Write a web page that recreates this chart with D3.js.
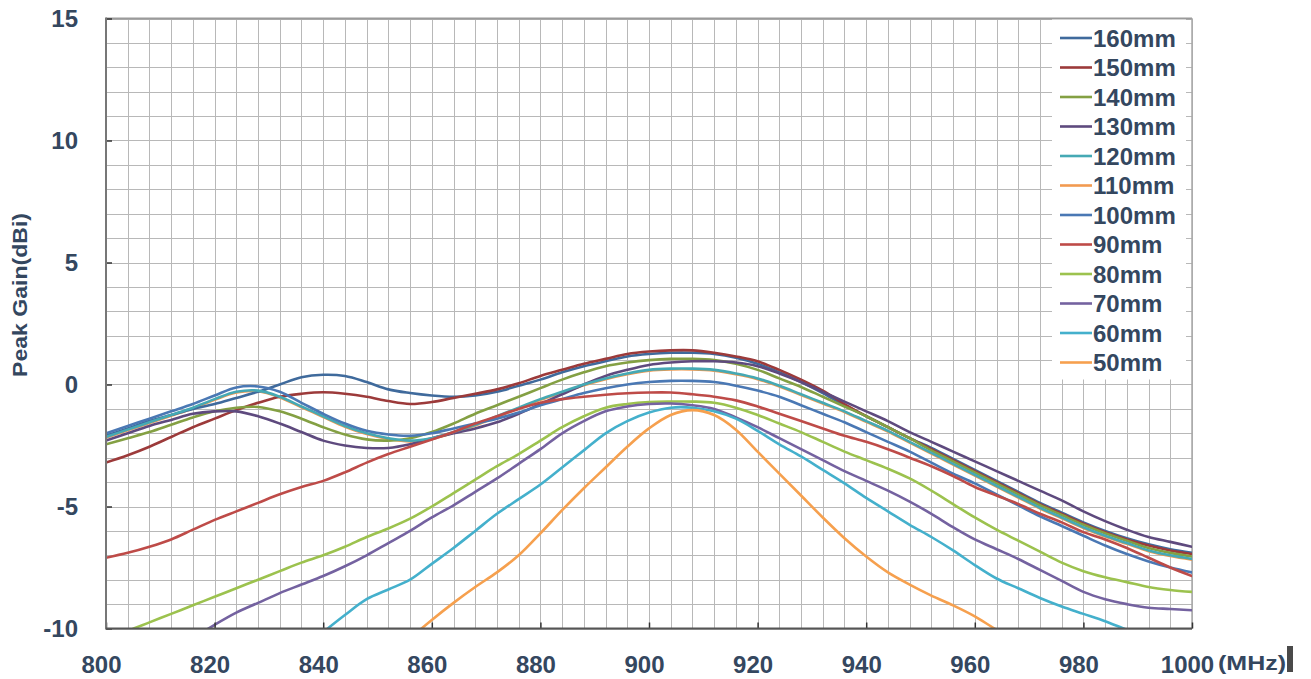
<!DOCTYPE html>
<html>
<head>
<meta charset="utf-8">
<script src="https://cdn.jsdelivr.net/npm/d3@7"></script>
<style>
  html, body { margin: 0; background: #ffffff; }
  svg { display: block; }
</style>
</head>
<body>
<svg id="chart" width="1311" height="679"></svg>
<script>
// Frequency sweep (MHz), one sample every 4 MHz
const freqs = d3.range(800, 1001, 4);

// Peak gain (dBi) for each reflector length; null = below the plotted range
const g160 = [-2.1,-1.8,-1.5,-1.25,-1.0,-0.8,-0.55,-0.3,0.0,0.3,0.4,0.35,0.1,-0.2,-0.35,-0.45,-0.5,-0.45,-0.3,-0.05,0.2,0.5,0.75,0.95,1.15,1.25,1.3,1.3,1.25,1.1,0.85,0.5,0.1,-0.35,-0.85,-1.3,-1.75,-2.2,-2.6,-3.05,-3.5,-3.95,-4.4,-4.85,-5.25,-5.65,-6.0,-6.3,-6.55,-6.75,-6.9];
const g150 = [-3.2,-2.9,-2.55,-2.15,-1.75,-1.4,-1.05,-0.75,-0.5,-0.38,-0.32,-0.38,-0.5,-0.68,-0.8,-0.72,-0.55,-0.38,-0.2,0.05,0.35,0.6,0.85,1.05,1.25,1.35,1.4,1.4,1.3,1.15,0.95,0.6,0.2,-0.25,-0.8,-1.3,-1.75,-2.2,-2.65,-3.1,-3.55,-4.0,-4.45,-4.9,-5.3,-5.7,-6.05,-6.35,-6.6,-6.8,-6.95];
const g140 = [-2.45,-2.2,-1.95,-1.65,-1.35,-1.1,-0.95,-0.92,-1.1,-1.4,-1.75,-2.05,-2.25,-2.3,-2.2,-1.95,-1.6,-1.2,-0.85,-0.5,-0.15,0.2,0.5,0.75,0.9,1.0,1.05,1.05,1.0,0.85,0.6,0.25,-0.1,-0.5,-0.9,-1.3,-1.75,-2.2,-2.7,-3.15,-3.6,-4.05,-4.5,-4.95,-5.35,-5.75,-6.1,-6.4,-6.7,-6.9,-7.05];
const g130 = [-2.3,-2.0,-1.7,-1.45,-1.2,-1.1,-1.1,-1.3,-1.6,-1.95,-2.3,-2.5,-2.6,-2.6,-2.45,-2.2,-2.0,-1.8,-1.55,-1.2,-0.8,-0.4,0.0,0.35,0.6,0.8,0.9,0.95,0.95,0.9,0.75,0.45,0.1,-0.3,-0.7,-1.1,-1.5,-1.95,-2.35,-2.75,-3.15,-3.55,-3.95,-4.35,-4.75,-5.2,-5.6,-5.95,-6.25,-6.45,-6.65];
const g120 = [-2.15,-1.85,-1.55,-1.25,-0.95,-0.6,-0.3,-0.25,-0.5,-0.9,-1.3,-1.7,-2.0,-2.2,-2.3,-2.2,-1.95,-1.65,-1.3,-0.95,-0.6,-0.3,0.0,0.25,0.45,0.6,0.65,0.65,0.6,0.45,0.25,-0.05,-0.4,-0.75,-1.1,-1.5,-1.9,-2.35,-2.8,-3.25,-3.7,-4.15,-4.6,-5.05,-5.45,-5.85,-6.2,-6.5,-6.8,-7.0,-7.15];
const g110 = [-2.18,-1.88,-1.58,-1.28,-0.98,-0.63,-0.33,-0.28,-0.53,-0.93,-1.33,-1.73,-2.03,-2.23,-2.33,-2.23,-1.98,-1.68,-1.33,-0.98,-0.63,-0.33,-0.03,0.22,0.42,0.57,0.62,0.62,0.57,0.42,0.22,-0.08,-0.43,-0.78,-1.13,-1.53,-1.93,-2.38,-2.83,-3.28,-3.73,-4.18,-4.63,-5.08,-5.48,-5.88,-6.23,-6.53,-6.83,-7.03,-7.18];
const g100 = [-2.0,-1.7,-1.4,-1.1,-0.8,-0.45,-0.12,-0.08,-0.3,-0.75,-1.2,-1.6,-1.9,-2.05,-2.1,-2.0,-1.8,-1.6,-1.4,-1.15,-0.85,-0.6,-0.35,-0.15,0.0,0.1,0.15,0.15,0.1,-0.05,-0.25,-0.5,-0.85,-1.2,-1.55,-1.95,-2.35,-2.75,-3.2,-3.65,-4.05,-4.5,-4.95,-5.4,-5.8,-6.2,-6.6,-6.95,-7.25,-7.5,-7.7];
const g90 = [-7.1,-6.9,-6.65,-6.35,-5.95,-5.55,-5.2,-4.85,-4.5,-4.2,-3.95,-3.6,-3.2,-2.85,-2.55,-2.25,-1.95,-1.6,-1.3,-1.0,-0.75,-0.6,-0.5,-0.42,-0.36,-0.33,-0.33,-0.4,-0.5,-0.65,-0.9,-1.2,-1.5,-1.8,-2.1,-2.35,-2.65,-3.0,-3.35,-3.75,-4.2,-4.55,-4.9,-5.3,-5.65,-6.05,-6.35,-6.7,-7.1,-7.5,-7.85];
const g80 = [-10.5,-10.1,-9.75,-9.4,-9.05,-8.7,-8.35,-8.0,-7.65,-7.3,-7.0,-6.65,-6.25,-5.9,-5.5,-5.0,-4.45,-3.9,-3.35,-2.85,-2.3,-1.75,-1.3,-0.95,-0.8,-0.72,-0.7,-0.7,-0.75,-0.95,-1.25,-1.6,-1.95,-2.35,-2.75,-3.1,-3.45,-3.85,-4.35,-4.9,-5.45,-5.95,-6.4,-6.85,-7.3,-7.65,-7.9,-8.1,-8.3,-8.42,-8.5];
const g70 = [null,null,null,null,-10.4,-9.85,-9.35,-8.95,-8.55,-8.2,-7.85,-7.45,-7.0,-6.5,-6.0,-5.45,-4.95,-4.4,-3.85,-3.25,-2.65,-2.0,-1.5,-1.1,-0.9,-0.8,-0.78,-0.85,-1.0,-1.35,-1.75,-2.2,-2.65,-3.1,-3.55,-3.95,-4.35,-4.8,-5.3,-5.85,-6.35,-6.75,-7.15,-7.6,-8.05,-8.5,-8.8,-9.0,-9.15,-9.2,-9.25];
const g60 = [null,null,null,null,null,null,null,null,null,null,-10.15,-9.45,-8.8,-8.4,-8.0,-7.35,-6.7,-6.0,-5.3,-4.7,-4.1,-3.4,-2.7,-2.0,-1.5,-1.15,-0.95,-0.95,-1.1,-1.4,-1.9,-2.45,-2.95,-3.5,-4.05,-4.65,-5.2,-5.75,-6.25,-6.8,-7.4,-7.95,-8.35,-8.75,-9.1,-9.4,-9.7,-10.05,-10.35,null,null];
const g50 = [null,null,null,null,null,null,null,null,null,null,null,null,null,null,-10.4,-9.65,-8.95,-8.3,-7.7,-7.0,-6.1,-5.15,-4.25,-3.4,-2.55,-1.8,-1.25,-1.05,-1.25,-1.85,-2.75,-3.65,-4.55,-5.45,-6.3,-7.05,-7.7,-8.2,-8.65,-9.05,-9.5,-10.05,-10.5,null,null,null,null,null,null,null,null];

// Legend labels, in legend order
const seriesNames = ["160mm","150mm","140mm","130mm","120mm","110mm","100mm","90mm","80mm","70mm","60mm","50mm"];
const seriesData  = [g160, g150, g140, g130, g120, g110, g100, g90, g80, g70, g60, g50];
const seriesColors = ["#3f6a9c","#9c3a3a","#84a043","#5e4a7e","#45a9b4","#f29a50","#4a78b4","#be4b48","#9cc24e","#7462a0","#44b0cc","#f6a04e"];

// Axis ticks
const xTicks = [800, 820, 840, 860, 880, 900, 920, 940, 960, 980, 1000];
const yTicks = [-10, -5, 0, 5, 10, 15];

const svg = d3.select("#chart");
const textColor = "#34475f";
const fontFam = "'Liberation Sans', Arial, sans-serif";

const plot = { left: 106, right: 1192, top: 18.5, bottom: 628.5 };
const x = d3.scaleLinear().domain([800, 1000]).range([plot.left, plot.right]);
const y = d3.scaleLinear().domain([-10, 15]).range([plot.bottom, plot.top]);

// Fine grid: 4 MHz by 1 dB
const grid = svg.append("g").attr("stroke", "#b8b8b8").attr("stroke-width", 1);
grid.selectAll("line.v").data(d3.range(800, 1001, 4)).join("line")
  .attr("x1", d => Math.round(x(d)) + 0.5).attr("x2", d => Math.round(x(d)) + 0.5)
  .attr("y1", plot.top).attr("y2", plot.bottom);
grid.selectAll("line.h").data(d3.range(-10, 16, 1)).join("line")
  .attr("x1", plot.left).attr("x2", plot.right)
  .attr("y1", d => Math.round(y(d)) + 0.5).attr("y2", d => Math.round(y(d)) + 0.5);

// Frame
svg.append("line").attr("x1", plot.left).attr("x2", plot.right).attr("y1", plot.top).attr("y2", plot.top)
  .attr("stroke", "#9a9a9a").attr("stroke-width", 2);
svg.append("line").attr("x1", plot.right).attr("x2", plot.right).attr("y1", plot.top).attr("y2", plot.bottom)
  .attr("stroke", "#a8a8a8").attr("stroke-width", 1.5);

// Curves, clipped to the plot area
svg.append("defs").append("clipPath").attr("id", "plotClip")
  .append("rect").attr("x", plot.left).attr("y", plot.top)
  .attr("width", plot.right - plot.left).attr("height", plot.bottom - plot.top);

const line = d3.line()
  .defined(d => d.v !== null)
  .x(d => x(d.f))
  .y(d => y(d.v))
  .curve(d3.curveCatmullRom.alpha(0.5));

// 110mm first so the neighbouring 120mm trace sits on top of it
const drawOrder = [5, 0, 1, 2, 3, 4, 6, 7, 8, 9, 10, 11];
const curves = svg.append("g").attr("clip-path", "url(#plotClip)");
drawOrder.forEach(i => {
  const pts = freqs.map((f, k) => ({ f: f, v: seriesData[i][k] }));
  curves.append("path")
    .attr("d", line(pts))
    .attr("fill", "none")
    .attr("stroke", seriesColors[i])
    .attr("stroke-width", 2.6)
    .attr("stroke-linejoin", "round")
    .attr("stroke-linecap", "round");
});

// Axes with inward ticks
const plainNum = d => String(d);
const xAxis = svg.append("g").attr("transform", `translate(0,${plot.bottom})`)
  .call(d3.axisBottom(x).tickValues(xTicks).tickFormat(plainNum).tickSizeInner(-6).tickSizeOuter(0).tickPadding(27));
const yAxis = svg.append("g").attr("transform", `translate(${plot.left},0)`)
  .call(d3.axisLeft(y).tickValues(yTicks).tickFormat(plainNum).tickSizeInner(-6).tickSizeOuter(0).tickPadding(28));

[xAxis, yAxis].forEach(a => {
  a.select(".domain").remove();
  a.selectAll(".tick line").attr("stroke", "#333").attr("stroke-width", 1.5);
  a.selectAll(".tick text")
    .attr("fill", textColor)
    .style("font-family", fontFam)
    .style("font-size", "24px")
    .style("font-weight", "bold");
});
xAxis.selectAll(".tick text").attr("dx", -5);

// Axis lines drawn over the ticks
svg.append("line").attr("x1", plot.left).attr("x2", plot.left).attr("y1", plot.top - 1).attr("y2", plot.bottom + 1)
  .attr("stroke", "#777").attr("stroke-width", 2);
svg.append("line").attr("x1", plot.left).attr("x2", plot.right).attr("y1", plot.bottom).attr("y2", plot.bottom)
  .attr("stroke", "#555").attr("stroke-width", 2);

// Unit label and y-axis title
svg.append("text")
  .attr("x", 1218).attr("y", 670)
  .attr("textLength", 68).attr("lengthAdjust", "spacingAndGlyphs")
  .attr("fill", textColor)
  .style("font-family", fontFam).style("font-size", "21px").style("font-weight", "bold")
  .text("(MHz)");
svg.append("rect").attr("x", 1287).attr("y", 646).attr("width", 6).attr("height", 26).attr("fill", "#4a4a4a");

svg.append("text")
  .attr("transform", "translate(27,295) rotate(-90)")
  .attr("text-anchor", "middle")
  .attr("textLength", 164).attr("lengthAdjust", "spacingAndGlyphs")
  .attr("fill", textColor)
  .style("font-family", fontFam).style("font-size", "20px").style("font-weight", "bold")
  .text("Peak Gain(dBi)");

// Legend
const legend = svg.append("g");
legend.append("rect")
  .attr("x", 1052).attr("y", plot.top + 1).attr("width", 134).attr("height", 360)
  .attr("fill", "#ffffff");
const rowY = i => 38 + i * 29.5;
seriesNames.forEach((name, i) => {
  legend.append("line")
    .attr("x1", 1060).attr("x2", 1092)
    .attr("y1", rowY(i)).attr("y2", rowY(i))
    .attr("stroke", seriesColors[i]).attr("stroke-width", 2.6);
  legend.append("text")
    .attr("x", 1093).attr("y", rowY(i)).attr("dy", "0.36em")
    .attr("fill", textColor)
    .style("font-family", fontFam).style("font-size", "24px").style("font-weight", "bold")
    .text(name);
});
</script>
</body>
</html>
